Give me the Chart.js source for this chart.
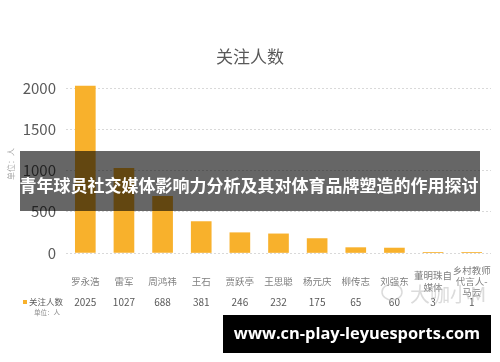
<!DOCTYPE html>
<html>
<head>
<meta charset="utf-8">
<script src="https://cdn.jsdelivr.net/npm/chart.js@4/dist/chart.umd.min.js"></script>
<style>
  html, body { margin: 0; padding: 0; background: #fff; }
  #wrap { width: 500px; height: 362px; }
</style>
</head>
<body>
<div id="wrap"><canvas id="chartArea" width="500" height="362"></canvas></div>
<script>
// data
const names = ['罗永浩', '雷军', '周鸿祎', '王石', '贾跃亭', '王思聪', '杨元庆', '柳传志', '刘强东', ['董明珠自', '媒体'], ['乡村教师', '代言人-', '马云']];
const followers = [2025, 1027, 688, 381, 246, 232, 175, 65, 60, 3, 1];
const yTicks = [0, 500, 1000, 1500, 2000];

const FONT = '"Noto Sans CJK SC", "Noto Sans", sans-serif';
const GREY = '#595959';
const BAR = '#F8B12C';

// title, data table row, overlay banners
const extras = {
    id: 'extras',
    afterDraw(chart) {
        const ctx = chart.ctx;
        const xs = chart.scales.x;
        ctx.save();

        ctx.fillStyle = GREY;
        ctx.textAlign = 'center';
        ctx.textBaseline = 'middle';
        ctx.font = '17px ' + FONT;
        ctx.fillText('关注人数', 250, 57);

        // vertical unit label
        ctx.save();
        ctx.translate(11, 164);
        ctx.rotate(-Math.PI / 2);
        ctx.font = '8px ' + FONT;
        ctx.fillStyle = '#a6a6a6';
        ctx.fillText('单位：人', 0, 0);
        ctx.restore();

        // table row
        ctx.fillStyle = BAR;
        ctx.fillRect(23, 300, 4, 4);
        ctx.fillStyle = GREY;
        ctx.textAlign = 'left';
        ctx.font = '8.5px ' + FONT;
        ctx.fillText('关注人数', 29, 302);
        ctx.font = '6.5px ' + FONT;
        ctx.fillStyle = '#8c8c8c';
        ctx.fillText('单位：人', 34, 313);

        ctx.textAlign = 'center';
        ctx.font = '10px ' + FONT;
        ctx.fillStyle = GREY;
        followers.forEach((v, i) => {
            ctx.fillText(String(v), xs.getPixelForValue(i), 302);
        });

        // watermark
        ctx.font = '20px ' + FONT;
        ctx.fillStyle = 'rgba(190,190,190,0.55)';
        ctx.textAlign = 'left';
        ctx.fillText('大咖小M', 410, 294);
        ctx.strokeStyle = 'rgba(190,190,190,0.55)';
        ctx.lineWidth = 1.5;
        ctx.beginPath();
        ctx.ellipse(392, 292, 10, 8, 0, 0, Math.PI * 2);
        ctx.stroke();

        // dark banner over the plot
        ctx.fillStyle = 'rgba(0,0,0,0.6)';
        ctx.fillRect(20, 151, 460, 60);
        ctx.fillStyle = '#fff';
        ctx.textAlign = 'center';
        ctx.font = 'bold 17px ' + FONT;
        ctx.fillText('青年球员社交媒体影响力分析及其对体育品牌塑造的作用探讨', 249, 186);

        // url banner
        ctx.fillStyle = '#000';
        ctx.fillRect(223, 315, 268, 38);
        ctx.fillStyle = '#fff';
        let size = 20;
        ctx.font = 'bold ' + size + 'px "Open Sans", sans-serif';
        const w = ctx.measureText('www.cn-play-leyuesports.com').width;
        size = size * 246 / w;
        ctx.font = 'bold ' + size.toFixed(1) + 'px "Open Sans", sans-serif';
        ctx.fillText('www.cn-play-leyuesports.com', 357, 334);

        ctx.restore();
    }
};

const config = {
    type: 'bar',
    data: {
        labels: names,
        datasets: [{
            label: '关注人数',
            data: followers,
            backgroundColor: BAR,
            barThickness: 20,
        }]
    },
    options: {
        responsive: false,
        animation: false,
        layout: { padding: { top: 84, right: 7, left: 0, bottom: 0 } },
        plugins: {
            legend: { display: false },
            title: { display: false },
            tooltip: { enabled: false },
        },
        scales: {
            x: {
                grid: { display: false },
                border: { display: false },
                ticks: {
                    color: '#7f7f7f',
                    font: { family: FONT, size: 9.5 },
                    padding: 9,
                    maxRotation: 0,
                    autoSkip: false,
                    crossAlign: 'center',
                },
                afterFit(scale) { scale.height = 109; },
            },
            y: {
                min: 0,
                max: 2050,
                afterBuildTicks(scale) {
                    scale.ticks = yTicks.map(v => ({ value: v }));
                },
                grid: { color: '#d9d9d9', drawTicks: false },
                border: { display: false, dash: [2, 2] },
                ticks: {
                    color: GREY,
                    font: { family: FONT, size: 15 },
                    padding: 10,
                    callback: v => String(v),
                },
                afterFit(scale) { scale.width = 66; },
            }
        }
    },
    plugins: [extras],
};

new Chart(document.getElementById('chartArea'), config);
</script>
</body>
</html>
